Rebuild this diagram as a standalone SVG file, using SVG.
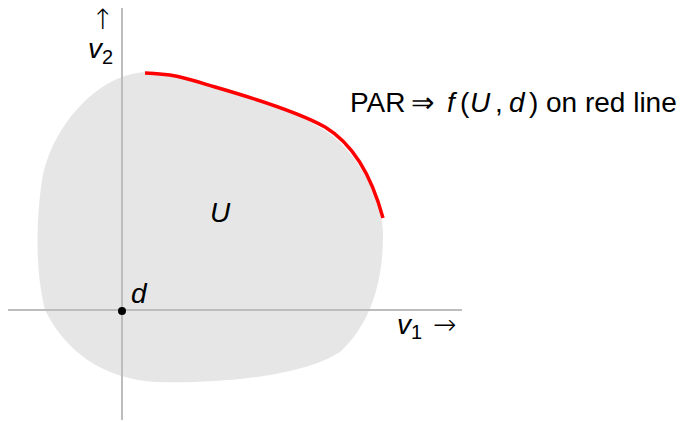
<svg xmlns="http://www.w3.org/2000/svg" width="686" height="422" viewBox="0 0 686 422">
<style>
.t{font-family:"Liberation Sans",Arial,sans-serif;font-size:28px;fill:#000}
.i{font-style:italic}
.s{font-size:20px;font-style:normal}
.ar{font-family:"DejaVu Sans",sans-serif;font-style:normal;font-weight:200}
.ax{stroke:#bdbdbd;stroke-width:2;fill:none}
</style>
<rect width="686" height="422" fill="#fff"/>
<g id="region">
<path d="M145,72 C200,74 300,110 335,138 C360,160 383,200 383,235 C383,280 372,322 340,352 C300,378 210,384 155,382 C100,378 65,350 45,310 C35,270 36,220 42,180 C50,130 95,75 145,72 Z" fill="#e6e6e6"/>
</g>
<g id="axes">
<line class="ax" x1="122" y1="8" x2="122" y2="420"/>
<line class="ax" x1="8" y1="310" x2="462" y2="310"/>
</g>
<g id="connectors">
<path d="M145,73 C175,74 185,78 215,87 C260,100 300,113 325,127 C350,142 370,170 383,218" fill="none" stroke="#ff0000" stroke-width="3.5"/>
</g>
<g id="point-d">
<circle cx="122" cy="311" r="4" fill="#000"/>
<text class="t i" x="131" y="303">d</text>
</g>
<g id="labels">
<text class="t ar" x="91" y="29" font-size="25">↑</text>
<text class="t i" x="88" y="58">v<tspan class="s" dy="6">2</tspan></text>
<text class="t i" x="210" y="222">U</text>
<text class="t i" x="397" y="334">v<tspan class="s" dy="5">1</tspan></text>
<text class="t ar" x="433" y="334" font-size="32">→</text>
<text class="t" y="112"><tspan x="350">PAR</tspan><tspan class="ar" x="411">⇒</tspan><tspan class="i" x="447">f</tspan><tspan x="460">(</tspan><tspan class="i" x="470">U</tspan><tspan x="495">,</tspan><tspan class="i" x="509">d</tspan><tspan x="529">)</tspan><tspan x="546">on red line</tspan></text>
</g>
</svg>
